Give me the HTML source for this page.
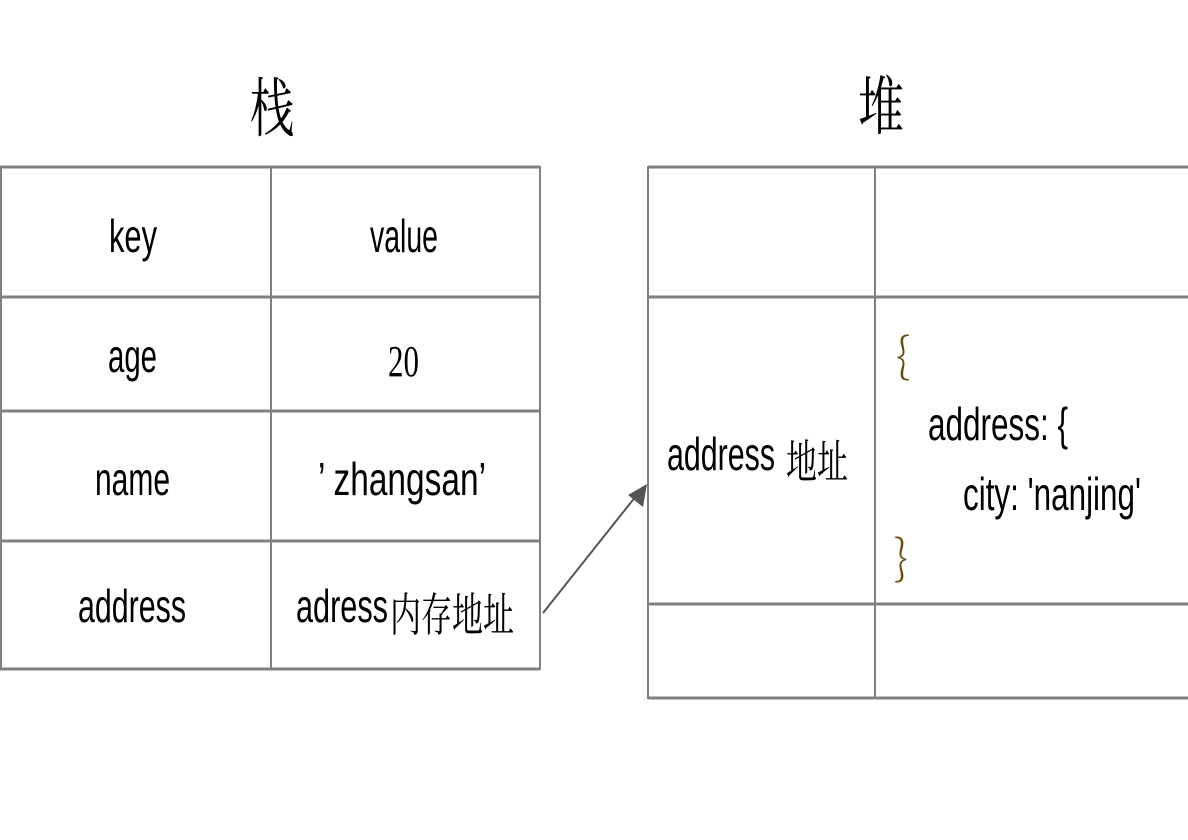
<!DOCTYPE html>
<html><head><meta charset="utf-8"><style>html,body{margin:0;padding:0;background:#fff}svg{display:block}</style></head>
<body>
<svg width="1188" height="840" xmlns="http://www.w3.org/2000/svg">
<g stroke="#808080" fill="none">
<g stroke-width="3">
<line x1="0" y1="167" x2="540" y2="167"/>
<line x1="0" y1="297" x2="540" y2="297"/>
<line x1="0" y1="411" x2="540" y2="411"/>
<line x1="0" y1="541" x2="540" y2="541"/>
<line x1="0" y1="669" x2="540" y2="669"/>
<line x1="648" y1="167" x2="1188" y2="167"/>
<line x1="648" y1="297" x2="1188" y2="297"/>
<line x1="648" y1="604" x2="1188" y2="604"/>
<line x1="648" y1="698" x2="1188" y2="698"/>
</g>
<g stroke-width="2">
<line x1="1" y1="166" x2="1" y2="670"/>
<line x1="271" y1="166" x2="271" y2="670"/>
<line x1="540" y1="166" x2="540" y2="670"/>
<line x1="648" y1="166" x2="648" y2="699"/>
<line x1="875" y1="166" x2="875" y2="699"/>
</g>
<line x1="543" y1="613" x2="636" y2="496" stroke="#555" stroke-width="2"/>
</g>
<polygon points="647,484 643,507 628,495" fill="#555"/>
<g font-family="'Liberation Serif','Noto Serif CJK SC',serif" fill="#000">
<text x="250" y="131" font-size="64" textLength="44" lengthAdjust="spacingAndGlyphs">栈</text>
<text x="858" y="129" font-size="64" textLength="46" lengthAdjust="spacingAndGlyphs">堆</text>
<text x="388" y="376" font-size="44" textLength="31" lengthAdjust="spacingAndGlyphs">20</text>
</g>
<g font-family="'Liberation Sans Narrow','Liberation Sans','Noto Sans CJK SC',sans-serif" font-size="46" fill="#000">
<text x="109" y="252" textLength="48" lengthAdjust="spacingAndGlyphs">key</text>
<text x="370" y="252" textLength="68" lengthAdjust="spacingAndGlyphs">value</text>
<text x="108" y="372" textLength="49" lengthAdjust="spacingAndGlyphs">age</text>
<text x="95" y="495" textLength="75" lengthAdjust="spacingAndGlyphs">name</text>
<text x="318" y="495" textLength="168" lengthAdjust="spacingAndGlyphs">’ zhangsan’</text>
<text x="78" y="622" textLength="108" lengthAdjust="spacingAndGlyphs">address</text>
<text x="296" y="622" textLength="92" lengthAdjust="spacingAndGlyphs">adress</text>
<text x="667" y="470" textLength="108" lengthAdjust="spacingAndGlyphs">address</text>
<text x="928" y="440" textLength="140" lengthAdjust="spacingAndGlyphs">address: {</text>
<text x="963" y="510" textLength="178" lengthAdjust="spacingAndGlyphs">city: 'nanjing'</text>
</g>
<g font-family="'Noto Serif CJK SC',serif" font-size="46" fill="#000">
<text x="390" y="631" textLength="124" lengthAdjust="spacingAndGlyphs">内存地址</text>
<text x="786" y="478" textLength="62" lengthAdjust="spacingAndGlyphs">地址</text>
</g>
<g font-family="'Noto Serif CJK SC','Liberation Serif',serif" font-size="48" fill="#6b4a10">
<text x="896" y="372" textLength="14" lengthAdjust="spacingAndGlyphs">{</text>
<text x="894" y="574" textLength="14" lengthAdjust="spacingAndGlyphs">}</text>
</g>
</svg>
</body></html>
